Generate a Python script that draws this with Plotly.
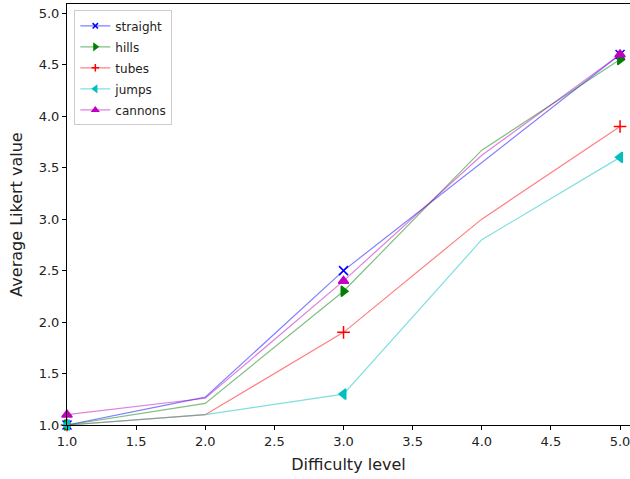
import plotly.graph_objects as go

difficulty = [1, 2, 3, 4, 5]
straight = [1.0, 1.27, 2.5, 3.55, 4.6]
hills = [1.0, 1.21, 2.3, 3.67, 4.55]
tubes = [1.0, 1.1, 1.9, 3.0, 3.9]
jumps = [1.0, 1.1, 1.3, 2.8, 3.6]
cannons = [1.1, 1.26, 2.4, 3.62, 4.6]

series = [
    ("straight", straight, (0, 0, 255), "x-thin", 9),
    ("hills", hills, (0, 128, 0), "triangle-right", 9),
    ("tubes", tubes, (255, 0, 0), "cross-thin", 9),
    ("jumps", jumps, (0, 191, 191), "triangle-left", 9),
    ("cannons", cannons, (191, 0, 191), "triangle-up", 9),
]

ticks = [1.0, 1.5, 2.0, 2.5, 3.0, 3.5, 4.0, 4.5, 5.0]
ticklabels = ["1.0", "1.5", "2.0", "2.5", "3.0", "3.5", "4.0", "4.5", "5.0"]

fig = go.Figure()
for name, vals, (r, g, b), sym, sz in series:
    sizes = [sz if i % 2 == 0 else 0 for i in range(len(vals))]
    fig.add_trace(go.Scatter(
        x=difficulty, y=vals, name=name, legendgroup=name, mode="lines+markers", cliponaxis=False,
        line=dict(color=f"rgba({r},{g},{b},0.5)", width=1.2),
        marker=dict(symbol=sym, size=sizes, color=f"rgb({r},{g},{b})", opacity=1,
                    line=dict(color=f"rgb({r},{g},{b})", width=1.5)),
    ))

fig.update_layout(
    width=630, height=479,
    margin=dict(l=67, r=0, t=4, b=54),
    plot_bgcolor="white", paper_bgcolor="white",
    font=dict(family="DejaVu Sans", size=13, color="#222"),
    legend=dict(x=0.013, y=0.985, xanchor="left", yanchor="top",
                bordercolor="#cccccc", borderwidth=1, bgcolor="white",
                font=dict(size=12), tracegroupgap=2),
    showlegend=True,
)
fig.update_xaxes(range=[1.0, 5.072], tickvals=ticks, ticktext=ticklabels, automargin=False,
                 ticklabeloverflow="allow",
                 showgrid=False, zeroline=False, showline=True, linecolor="black", linewidth=1,
                 mirror=True, ticks="outside", ticklen=4, tickcolor="black",
                 title=dict(text="Difficulty level", standoff=11))
fig.update_yaxes(range=[1.0, 5.09], tickvals=ticks, ticktext=ticklabels, automargin=False,
                 ticklabeloverflow="allow",
                 showgrid=False, zeroline=False, showline=True, linecolor="black", linewidth=1,
                 ticks="outside", ticklen=4, tickcolor="black",
                 title=dict(text="Average Likert value", standoff=12))

fig.write_html("out.html", config={"displayModeBar": False},
               post_script="document.body.style.margin='0';document.body.style.overflow='hidden';")
